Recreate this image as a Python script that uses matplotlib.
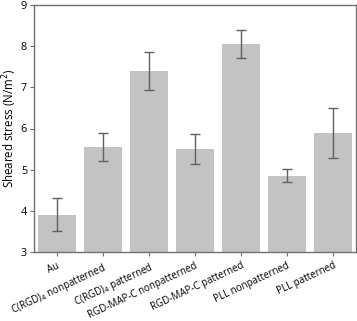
import numpy as np
import matplotlib.pyplot as plt

plt.rcParams['font.family'] = ['Open Sans', 'DejaVu Sans']

# Datos
categories = ['Au', r'C(RGD)$_4$ nonpatterned', r'C(RGD)$_4$ patterned',
              'RGD-MAP-C nonpatterned', 'RGD-MAP-C patterned',
              'PLL nonpatterned', 'PLL patterned']
stress = [3.9, 5.55, 7.4, 5.5, 8.05, 4.85, 5.89]
err = [0.4, 0.35, 0.47, 0.36, 0.34, 0.16, 0.61]

fig = plt.figure(figsize=(3.57, 3.21), dpi=100)
ax = fig.add_axes([34 / 357, 69 / 321, 322 / 357, 247 / 321])

x = np.arange(len(categories))
ax.bar(x, stress, width=0.83, color='#c3c3c3', zorder=1)
ax.errorbar(x, stress, yerr=err, fmt='none', ecolor='#606060',
            elinewidth=1.0, capsize=3.5, capthick=1.0, zorder=2)

ax.set_xlim(-0.5, 6.5)
ax.set_ylim(3, 9)
ax.set_yticks([3, 4, 5, 6, 7, 8, 9])
ax.set_xticks(x)
ax.set_xticklabels(categories, rotation=25, ha='right',
                   rotation_mode='anchor', fontsize=7.0)
ax.tick_params(axis='y', labelsize=7.8, length=3, pad=2, color='#707070')
ax.tick_params(axis='x', length=3, pad=3, color='#707070')
ax.set_ylabel('Sheared stress (N/m$^2$)', fontsize=8.3)
ax.yaxis.set_label_coords(-0.048, 0.5)
for s in ax.spines.values():
    s.set_color('#707070')
    s.set_linewidth(1.0)

fig.savefig('out.png', dpi=100)
